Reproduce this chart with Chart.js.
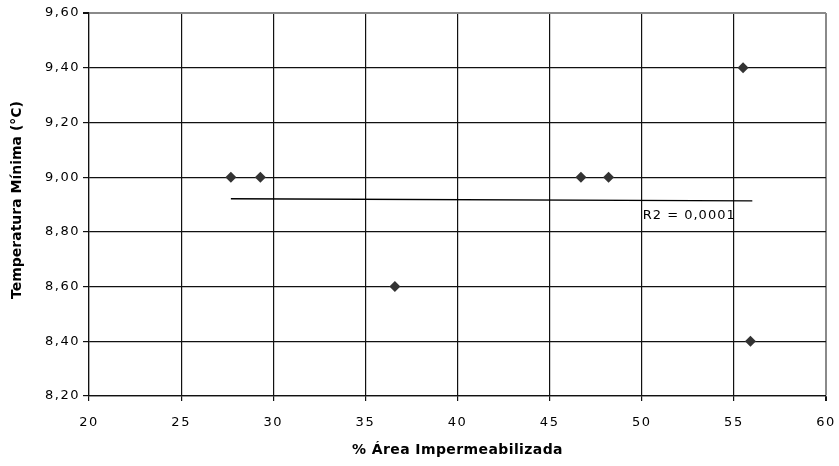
<!DOCTYPE html>
<html>
<head>
<meta charset="utf-8">
<script src="https://cdn.jsdelivr.net/npm/chart.js@4/dist/chart.umd.min.js"></script>
<style>
  html, body { margin: 0; padding: 0; background: #fff; }
  #wrap { width: 839px; height: 466px; }
</style>
</head>
<body>
<div id="wrap"><canvas id="tempChart"></canvas></div>
<script>
// valores
const areaImp = [27.7, 29.3, 36.6, 46.7, 48.2, 55.5, 55.9];
const tempMin = [9.0, 9.0, 8.6, 9.0, 9.0, 9.4, 8.4];
const trendX = [27.7, 56.0];
const trendY = [8.921, 8.913];
const xTicks = [20, 25, 30, 35, 40, 45, 50, 55, 60];
const yTicks = [8.2, 8.4, 8.6, 8.8, 9.0, 9.2, 9.4, 9.6];
const r2Label = 'R2 = 0,0001';
const xTitle = '% Área Impermeabilizada';
const yTitle = 'Temperatura Mínima (°C)';

const labelFont = { family: 'DejaVu Sans', size: 13 };

// espaçamento largo dos números, como no original
const spacingPlugin = {
    id: 'spacing',
    beforeDraw(chart) {
        chart.ctx.letterSpacing = '1.5px';
    }
};

// títulos dos eixos e texto do R2
const textPlugin = {
    id: 'textos',
    afterDraw(chart) {
        const ctx = chart.ctx;
        const area = chart.chartArea;
        ctx.save();
        ctx.fillStyle = '#000';
        ctx.textAlign = 'center';
        ctx.textBaseline = 'middle';

        ctx.letterSpacing = '0.4px';
        ctx.font = 'bold 14px "DejaVu Sans"';
        ctx.fillText(xTitle, (area.left + area.right) / 2, 450);

        ctx.letterSpacing = '0px';
        ctx.save();
        ctx.translate(17, 200);
        ctx.rotate(-Math.PI / 2);
        ctx.fillText(yTitle, 0, 0);
        ctx.restore();

        ctx.letterSpacing = '1px';
        ctx.font = '13px "DejaVu Sans"';
        ctx.textAlign = 'left';
        const x = chart.scales.x.getPixelForValue(50);
        const y = chart.scales.y.getPixelForValue(8.86);
        ctx.fillText(r2Label, x + 1, y);
        ctx.restore();
    }
};

const ctx = document.getElementById('tempChart').getContext('2d');
const tempChart = new Chart(ctx, {
    type: 'scatter',
    data: {
        datasets: [{
            label: 'Temperatura Mínima',
            data: areaImp.map((v, i) => ({ x: v, y: tempMin[i] })),
            pointStyle: 'rectRot',
            pointRadius: 5.5,
            pointHoverRadius: 5.5,
            backgroundColor: '#333333',
            borderColor: '#333333',
            borderWidth: 0,
            order: 1
        }, {
            label: 'Linear',
            type: 'line',
            data: trendX.map((v, i) => ({ x: v, y: trendY[i] })),
            borderColor: '#000000',
            borderWidth: 1.3,
            pointRadius: 0,
            fill: false,
            order: 2
        }]
    },
    options: {
        responsive: true,
        maintainAspectRatio: false,
        animation: false,
        layout: { padding: { top: 13, right: 13, left: 0, bottom: 0 } },
        plugins: {
            legend: { display: false },
            tooltip: { enabled: false }
        },
        scales: {
            x: {
                type: 'linear',
                min: 20,
                max: 60,
                afterBuildTicks: axis => { axis.ticks = xTicks.map(v => ({ value: v })); },
                afterFit: axis => {
                    axis.height = 70;
                    axis.paddingLeft = 0;
                    axis.paddingRight = 0;
                },
                ticks: {
                    color: '#000',
                    font: labelFont,
                    padding: 14,
                    maxRotation: 0,
                    autoSkip: false
                },
                grid: {
                    color: c => (c.tick && c.tick.value === 60) ? '#8a8a8a' : '#111111',
                    lineWidth: c => (c.tick && c.tick.value === 60) ? 2 : 1.2,
                    tickLength: 5,
                    tickColor: '#111111'
                },
                border: { color: '#111111', width: 1.2 }
            },
            y: {
                type: 'linear',
                min: 8.2,
                max: 9.6,
                afterBuildTicks: axis => { axis.ticks = yTicks.map(v => ({ value: v })); },
                afterFit: axis => {
                    axis.width = 89;
                    axis.paddingTop = 0;
                    axis.paddingBottom = 0;
                },
                ticks: {
                    color: '#000',
                    font: labelFont,
                    padding: 3,
                    autoSkip: false,
                    callback: v => Number(v).toFixed(2).replace('.', ',')
                },
                grid: {
                    color: c => (c.tick && Math.abs(c.tick.value - 9.6) < 1e-6) ? '#8a8a8a' : '#111111',
                    lineWidth: c => (c.tick && Math.abs(c.tick.value - 9.6) < 1e-6) ? 2 : 1.2,
                    tickLength: 6,
                    tickColor: '#111111'
                },
                border: { color: '#111111', width: 1.2 }
            }
        }
    },
    plugins: [spacingPlugin, textPlugin]
});
</script>
</body>
</html>
